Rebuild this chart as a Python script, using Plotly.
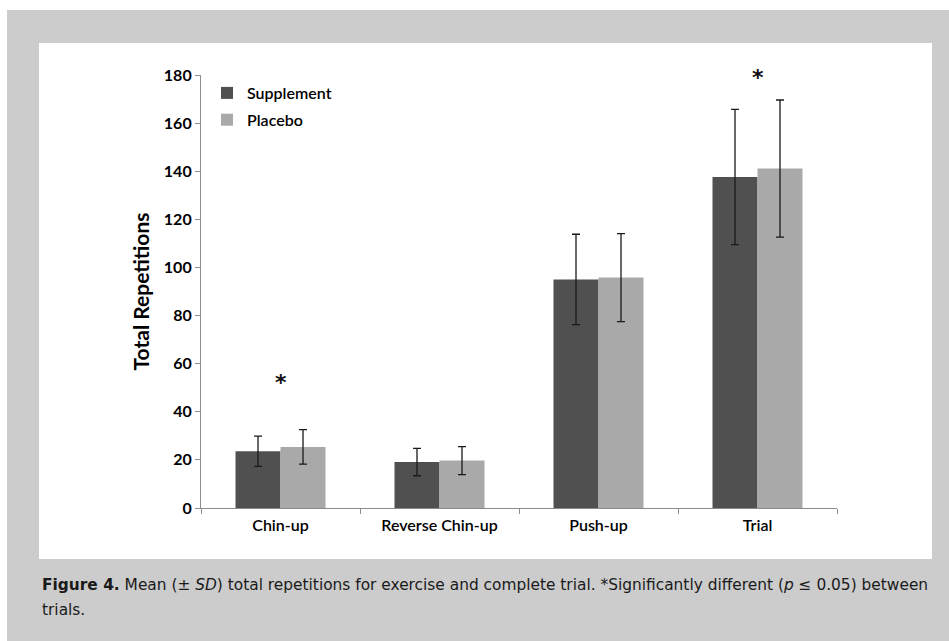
import plotly.graph_objects as go

categories = ["Chin-up", "Reverse Chin-up", "Push-up", "Trial"]
supplement = [23.6, 19.1, 95.0, 137.6]
supplement_sd = [6.3, 5.7, 18.8, 28.1]
placebo = [25.4, 19.7, 95.8, 141.1]
placebo_sd = [7.2, 5.8, 18.3, 28.5]
sig_categories = ["Chin-up", "Trial"]
sig_y = [52, 179]

W, H = 949, 641
L, R, T, B = 201, 112, 75, 133
PW, PH = W - L - R, H - T - B

def px(x):
    return (x - L) / PW

def py(y):
    return (H - B - y) / PH

fig = go.Figure()
fig.add_trace(go.Bar(
    name="Supplement", x=categories, y=supplement, legendgroup="s",
    marker=dict(color="#505050", line=dict(width=0)),
    error_y=dict(type="data", array=supplement_sd, visible=True,
                 color="#1a1a1a", thickness=1.3, width=4),
))
fig.add_trace(go.Bar(
    name="Placebo", x=categories, y=placebo, legendgroup="p",
    marker=dict(color="#a9a9a9", line=dict(width=0)),
    error_y=dict(type="data", array=placebo_sd, visible=True,
                 color="#1a1a1a", thickness=1.3, width=4),
))

shapes = [
    dict(type="rect", xref="paper", yref="paper", layer="below",
         x0=px(7), x1=px(W + 5), y0=py(H + 5), y1=py(10),
         fillcolor="#cccccc", line=dict(width=0)),
    dict(type="rect", xref="paper", yref="paper", layer="below",
         x0=px(39), x1=px(932), y0=py(559), y1=py(43),
         fillcolor="#ffffff", line=dict(width=0)),
]

cap_font = dict(family="DejaVu Sans", size=15.4, color="#1a1a1a")
annotations = []
for c, yv in zip(sig_categories, sig_y):
    annotations.append(dict(x=c, y=yv, xref="x", yref="y", text="<b>*</b>",
                            showarrow=False, font=dict(family="DejaVu Sans", size=22, color="#111"),
                            xanchor="center", yanchor="middle"))
annotations.append(dict(
    x=px(40), y=py(585), xref="paper", yref="paper", xanchor="left", yanchor="middle",
    showarrow=False, align="left",
    text="<b>Figure 4.</b> Mean (± <i>SD</i>) total repetitions for exercise and complete trial. "
         "*Significantly different (<i>p</i> ≤ 0.05) between",
    font=cap_font))
annotations.append(dict(
    x=px(40), y=py(610), xref="paper", yref="paper", xanchor="left", yanchor="middle",
    showarrow=False, align="left", text="trials.", font=cap_font))

fig.update_layout(
    width=W, height=H, autosize=False,
    margin=dict(l=L, r=R, t=T, b=B, pad=0),
    paper_bgcolor="#ffffff", plot_bgcolor="#ffffff",
    barmode="group", bargap=0.434, bargroupgap=0,
    font=dict(family="Lato", color="#000"),
    showlegend=True,
    legend=dict(x=px(207), y=py(76), xanchor="left", yanchor="top",
                bgcolor="rgba(0,0,0,0)", tracegroupgap=3,
                font=dict(family="Lato", size=16, color="#000", weight=600)),
    shapes=shapes, annotations=annotations,
    xaxis=dict(showline=True, linecolor="#8c8c8c", linewidth=1.2,
               ticks="outside", tickson="boundaries", ticklen=5, tickcolor="#8c8c8c",
               ticklabelstandoff=3,
               tickfont=dict(family="Lato", size=16, color="#000", weight=600),
               showgrid=False, zeroline=False, fixedrange=True),
    yaxis=dict(range=[0, 180], dtick=20, showline=True, linecolor="#8c8c8c", linewidth=1.2,
               ticks="outside", ticklen=5, tickcolor="#8c8c8c",
               tickfont=dict(family="Lato", size=16, color="#000", weight="bold"),
               showgrid=False, zeroline=False,
               title=dict(text="Total Repetitions", standoff=8,
                          font=dict(family="Lato", size=21, color="#000", weight="bold"))),
)

fig.write_html("out.html")
